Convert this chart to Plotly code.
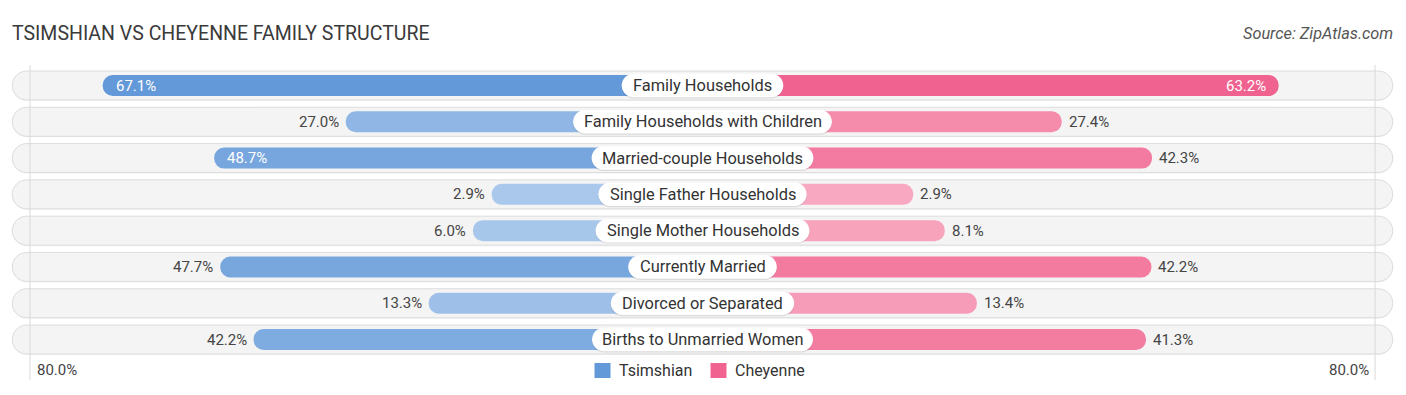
import plotly.graph_objects as go

# ---------------- data ----------------
categories = [
    "Family Households",
    "Family Households with Children",
    "Married-couple Households",
    "Single Father Households",
    "Single Mother Households",
    "Currently Married",
    "Divorced or Separated",
    "Births to Unmarried Women",
]
tsimshian = [67.1, 27.0, 48.7, 2.9, 6.0, 47.7, 13.3, 42.2]
cheyenne = [63.2, 27.4, 42.3, 2.9, 8.1, 42.2, 13.4, 41.3]
series_names = ["Tsimshian", "Cheyenne"]
axis_max_value = 80.0
title_text = "TSIMSHIAN VS CHEYENNE FAMILY STRUCTURE"
source_text = "Source: ZipAtlas.com"

# ---------------- layout constants (page pixels) ----------------
PAGE_W, PAGE_H = 1406, 395
M = 8                       # default body margin of the written page
W, H = PAGE_W - 2 * M, PAGE_H - 2 * M
PXU = 6.06                  # pixels per percent
CENTER_PX = 702.5 - M
OFFSET = 193.2 / PXU        # bars start hidden under the centre label
ROW0_PX = 85.5 - M
ROW_STEP = 36.29
BAR_H = 21
BG_H = 29
BG_HALF = 113.9
LBL_H = 23.5
LBL_FONT = 16.4
VAL_FONT = 15
FONT = "Roboto"
INSIDE_MIN = 48.0

BLUE_DARK, BLUE_LIGHT = (99, 153, 217), (173, 202, 236)
PINK_DARK, PINK_LIGHT = (240, 98, 143), (248, 172, 195)


def mix(light, dark, t):
    return "rgb(%d,%d,%d)" % tuple(round(l + (d - l) * t) for l, d in zip(light, dark))


def yu(px):
    return px / ROW_STEP


def xu(px):
    return px / PXU


def ypx_to_paper(py):      # page pixel -> paper fraction
    return 1 - (py - M) / H


def xpx_to_paper(px):
    return (px - M) / W


K = 0.5523


def rounded_rect(x0, x1, yc, h_px, r_px):
    rx, ry = xu(r_px), yu(r_px)
    y0, y1 = yc - yu(h_px / 2), yc + yu(h_px / 2)
    kx, ky = rx * K, ry * K
    p = f"M {x0 + rx},{y0} L {x1 - rx},{y0} "
    p += f"C {x1 - rx + kx},{y0} {x1},{y0 + ry - ky} {x1},{y0 + ry} "
    p += f"L {x1},{y1 - ry} "
    p += f"C {x1},{y1 - ry + ky} {x1 - rx + kx},{y1} {x1 - rx},{y1} "
    p += f"L {x0 + rx},{y1} "
    p += f"C {x0 + rx - kx},{y1} {x0},{y1 - ry + ky} {x0},{y1 - ry} "
    p += f"L {x0},{y0 + ry} "
    p += f"C {x0},{y0 + ry - ky} {x0 + rx - kx},{y0} {x0 + rx},{y0} Z"
    return p


# approximate Roboto advance widths (units per em = 2048)
ROBOTO_W = {
    "a": 1088, "b": 1120, "c": 1045, "d": 1126, "e": 1058, "f": 696, "g": 1122,
    "h": 1101, "i": 486, "j": 478, "k": 1012, "l": 486, "m": 1751, "n": 1103,
    "o": 1139, "p": 1120, "q": 1131, "r": 677, "s": 1031, "t": 655, "u": 1100,
    "v": 967, "w": 1502, "x": 991, "y": 945, "z": 991,
    "A": 1336, "B": 1275, "C": 1333, "D": 1343, "E": 1164, "F": 1132, "G": 1395,
    "H": 1460, "I": 557, "M": 1787, "S": 1231, "W": 1817, "T": 1225,
    " ": 507, "-": 553,
}


def text_w(s, size):
    return sum(ROBOTO_W.get(ch, 1100) for ch in s) / 2048 * size


n = len(categories)
rows = list(range(n))
t_max, c_max = max(tsimshian), max(cheyenne)
t_colors = [mix(BLUE_LIGHT, BLUE_DARK, v / t_max) for v in tsimshian]
c_colors = [mix(PINK_LIGHT, PINK_DARK, v / c_max) for v in cheyenne]

fig = go.Figure()

fig.add_trace(go.Bar(
    y=rows, x=[-(OFFSET + v) for v in tsimshian], base=0, orientation="h",
    width=yu(BAR_H), marker=dict(color=t_colors, cornerradius=10, line=dict(width=0)),
    name=series_names[0], hoverinfo="skip", showlegend=False,
))
fig.add_trace(go.Bar(
    y=rows, x=[OFFSET + v for v in cheyenne], base=0, orientation="h",
    width=yu(BAR_H), marker=dict(color=c_colors, cornerradius=10, line=dict(width=0)),
    name=series_names[1], hoverinfo="skip", showlegend=False,
))

shapes = []
annotations = []

# row backgrounds
for i in rows:
    shapes.append(dict(type="path", xref="x", yref="y", layer="below",
                       path=rounded_rect(-BG_HALF, BG_HALF, i + yu(1), BG_H, BG_H / 2),
                       fillcolor="rgba(0,0,0,0.05)", line=dict(width=0)))
    shapes.append(dict(type="path", xref="x", yref="y", layer="below",
                       path=rounded_rect(-BG_HALF, BG_HALF, i, BG_H, BG_H / 2),
                       fillcolor="#f4f4f4", line=dict(color="#dcdcdc", width=1)))

# faint vertical guide lines near +/- axis max
guide = OFFSET + axis_max_value - 0.9
for sx in (-1, 1):
    shapes.append(dict(type="line", xref="x", yref="y", layer="below",
                       x0=sx * guide, x1=sx * guide,
                       y0=yu(65 - 85.5), y1=yu(380 - 85.5),
                       line=dict(color="#d9d9d9", width=1)))

# centre label boxes
for i, cat in enumerate(categories):
    half = xu(text_w(cat, LBL_FONT) / 2 + 12.5)
    shapes.append(dict(type="path", xref="x", yref="y", layer="above",
                       path=rounded_rect(-half, half, i + yu(1.2), LBL_H, LBL_H / 2),
                       fillcolor="rgba(0,0,0,0.10)", line=dict(width=0)))
    shapes.append(dict(type="path", xref="x", yref="y", layer="above",
                       path=rounded_rect(-half, half, i, LBL_H, LBL_H / 2),
                       fillcolor="#ffffff", line=dict(width=0)))
    annotations.append(dict(x=0, y=i, xref="x", yref="y", text=cat, showarrow=False,
                            xanchor="center", yanchor="middle",
                            font=dict(family=FONT, size=LBL_FONT, color="#333333")))

# value labels
for i, v in enumerate(tsimshian):
    inside = v >= INSIDE_MIN
    annotations.append(dict(
        x=-(OFFSET + v), y=i, xref="x", yref="y", text=f"{v:.1f}%", showarrow=False,
        xanchor="left" if inside else "right", yanchor="middle",
        xshift=11 if inside else -5,
        font=dict(family=FONT, size=VAL_FONT, color="#ffffff" if inside else "#444444")))
for i, v in enumerate(cheyenne):
    inside = v >= INSIDE_MIN
    annotations.append(dict(
        x=OFFSET + v, y=i, xref="x", yref="y", text=f"{v:.1f}%", showarrow=False,
        xanchor="right" if inside else "left", yanchor="middle",
        xshift=-11 if inside else 5,
        font=dict(family=FONT, size=VAL_FONT, color="#ffffff" if inside else "#444444")))

# axis max labels
annotations.append(dict(x=xpx_to_paper(35), y=ypx_to_paper(370), xref="paper", yref="paper",
                        text=f"{axis_max_value:.1f}%", showarrow=False, xanchor="left",
                        yanchor="middle", font=dict(family=FONT, size=VAL_FONT, color="#444444")))
annotations.append(dict(x=xpx_to_paper(1371), y=ypx_to_paper(370), xref="paper", yref="paper",
                        text=f"{axis_max_value:.1f}%", showarrow=False, xanchor="right",
                        yanchor="middle", font=dict(family=FONT, size=VAL_FONT, color="#444444")))

# legend (custom)
leg_items = [(series_names[0], BLUE_DARK, 594.5), (series_names[1], PINK_DARK, 710.5)]
for name, col, px in leg_items:
    shapes.append(dict(type="rect", xref="paper", yref="paper",
                       x0=xpx_to_paper(px), x1=xpx_to_paper(px + 16),
                       y0=ypx_to_paper(378), y1=ypx_to_paper(363),
                       fillcolor="rgb(%d,%d,%d)" % col, line=dict(width=0)))
    annotations.append(dict(x=xpx_to_paper(px + 22.5), y=ypx_to_paper(370.5), xref="paper",
                            yref="paper", text=name, showarrow=False, xanchor="left",
                            yanchor="middle", font=dict(family=FONT, size=16, color="#333333")))

# title and source
annotations.append(dict(x=xpx_to_paper(10), y=ypx_to_paper(33), xref="paper", yref="paper",
                        text=title_text, showarrow=False, xanchor="left", yanchor="middle",
                        font=dict(family=FONT, size=19.5, color="#3a3a3a")))
annotations.append(dict(x=xpx_to_paper(1395), y=ypx_to_paper(33), xref="paper", yref="paper",
                        text=f"<i>{source_text}</i>", showarrow=False, xanchor="right",
                        yanchor="middle", font=dict(family=FONT, size=16.3, color="#555555")))

fig.update_layout(
    width=W, height=H,
    margin=dict(l=0, r=0, t=0, b=0),
    paper_bgcolor="white", plot_bgcolor="rgba(0,0,0,0)",
    barmode="overlay",
    showlegend=False,
    xaxis=dict(range=[-CENTER_PX / PXU, (W - CENTER_PX) / PXU], visible=False, fixedrange=True),
    yaxis=dict(range=[(H - ROW0_PX) / ROW_STEP, -ROW0_PX / ROW_STEP], visible=False, fixedrange=True),
    shapes=shapes,
    annotations=annotations,
)

fig.write_html("out.html", config={"displayModeBar": False})
